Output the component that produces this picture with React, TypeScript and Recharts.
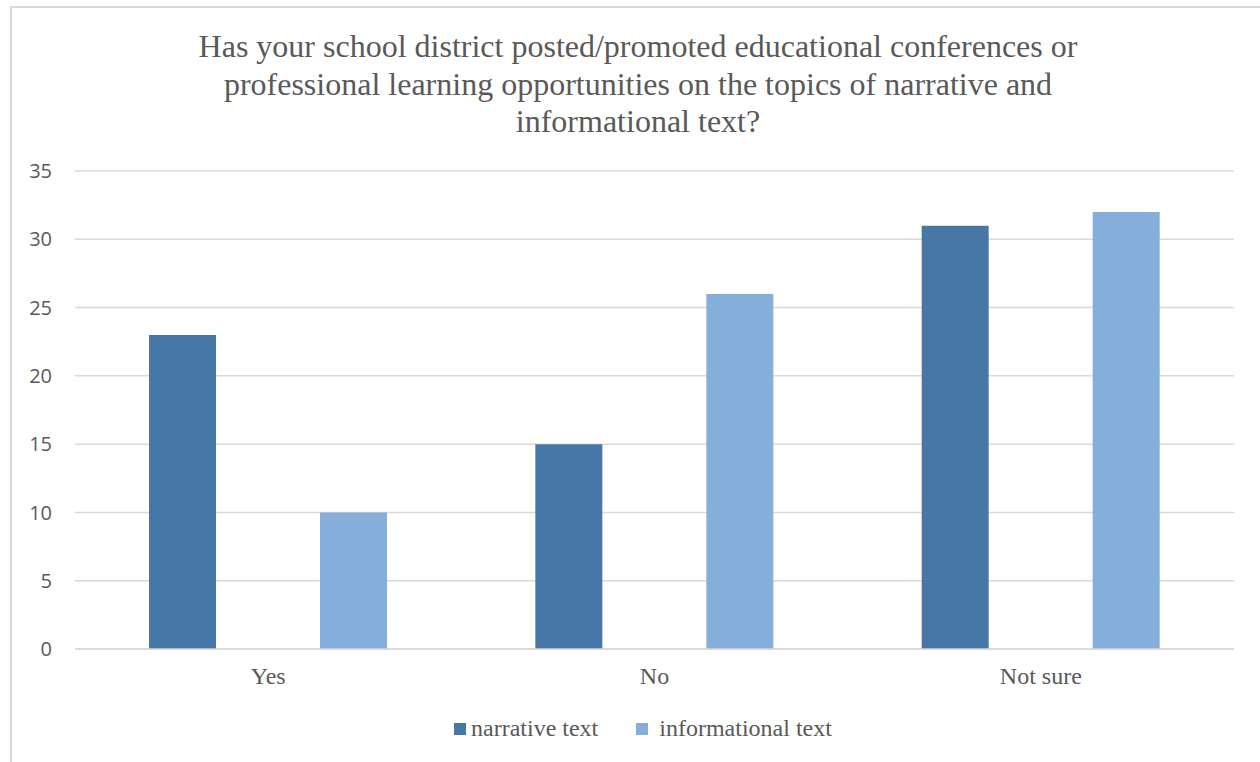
import { BarChart, Bar, XAxis, YAxis, CartesianGrid, Legend } from 'recharts';

const categories = ['Yes', 'No', 'Not sure'];
const narrativeValues = [23, 15, 31];
const informationalValues = [10, 26, 32];
const yTicks = [0, 5, 10, 15, 20, 25, 30, 35];

const NARRATIVE = '#4677A7';
const INFORMATIONAL = '#85AEDB';
const GRID = '#D9D9D9';
const TEXT = '#595959';

const chartData = categories.map((name, i) => ({
  name,
  narrative: narrativeValues[i],
  informational: informationalValues[i],
}));

// Excel-style legend with uneven spacing between marker and label
const CustomLegend = () => (
  <div style={{ display: 'flex', alignItems: 'center', fontFamily: '"Liberation Serif", serif', fontSize: 24, color: TEXT }}>
    <span style={{ width: 12, height: 12, background: NARRATIVE, marginRight: 5 }} />
    <span style={{ marginRight: 38 }}>narrative text</span>
    <span style={{ width: 12, height: 12, background: INFORMATIONAL, marginRight: 11 }} />
    <span>informational text</span>
  </div>
);

const App = () => {
  return (
    <div style={{ position: 'absolute', left: 0, top: 0, width: 1260, height: 762, overflow: 'hidden', background: '#fff' }}>
      <div style={{ position: 'absolute', left: 10, top: 6, width: 1300, height: 800, border: `2px solid ${GRID}` }} />
      <div
        style={{
          position: 'absolute',
          left: 0,
          top: 28,
          width: 1276,
          textAlign: 'center',
          fontFamily: '"Liberation Serif", serif',
          fontSize: 32,
          lineHeight: '37.5px',
          color: TEXT,
        }}
      >
        Has your school district posted/promoted educational conferences or
        <br />
        professional learning opportunities on the topics of narrative and
        <br />
        informational text?
      </div>
      <div style={{ position: 'absolute', left: 0, top: 0 }}>
        <BarChart width={1260} height={762} data={chartData} margin={{ top: 171, right: 26, left: 0, bottom: 0 }} barSize={67} barGap={104}>
          <CartesianGrid vertical={false} stroke={GRID} strokeWidth={1.5} />
          <XAxis
            dataKey="name"
            height={113}
            tickLine={false}
            tickSize={0}
            tickMargin={18}
            axisLine={{ stroke: GRID, strokeWidth: 1.5 }}
            tick={{ fill: TEXT, fontSize: 24, fontFamily: '"Liberation Serif", serif' }}
          />
          <YAxis
            width={75}
            domain={[0, 35]}
            ticks={yTicks}
            axisLine={false}
            tickLine={false}
            tickSize={0}
            tickMargin={23}
            tick={{ fill: TEXT, fontSize: 20, fontFamily: '"Open Sans", sans-serif' }}
          />
          <Legend verticalAlign="middle" content={<CustomLegend />} wrapperStyle={{ left: 454, top: 715, width: 'auto' }} />
          <Bar dataKey="narrative" name="narrative text" fill={NARRATIVE} isAnimationActive={false} />
          <Bar dataKey="informational" name="informational text" fill={INFORMATIONAL} isAnimationActive={false} />
        </BarChart>
      </div>
    </div>
  );
};

export default App;
